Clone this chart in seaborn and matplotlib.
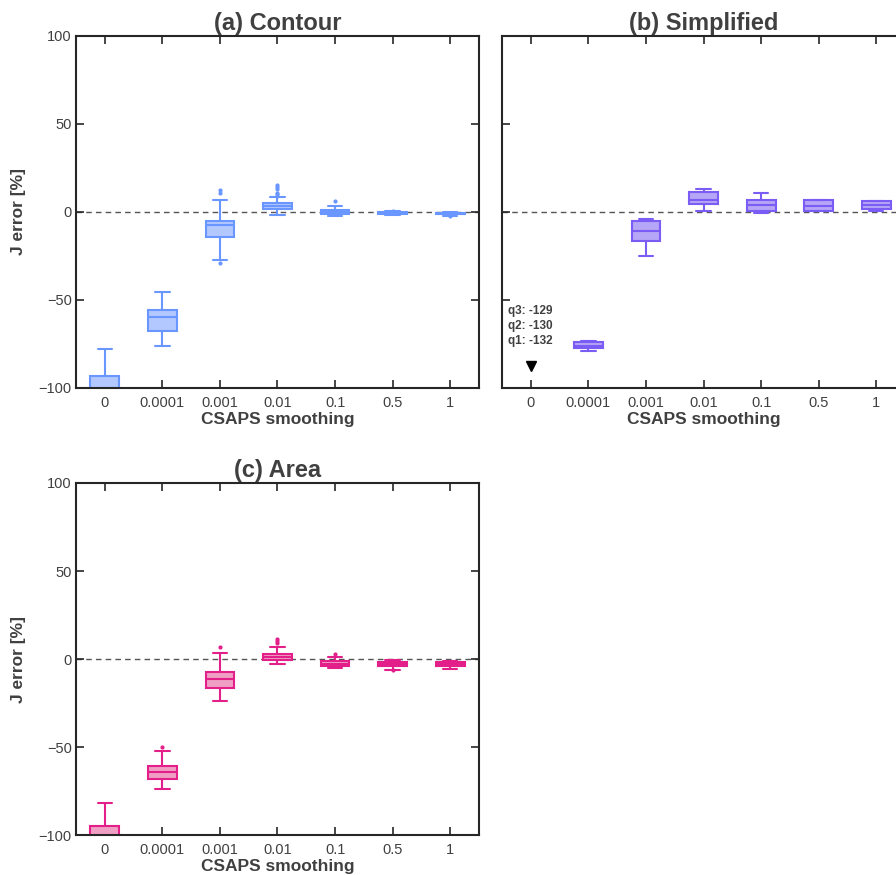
import numpy as np
import pandas as pd
import matplotlib
matplotlib.use("Agg")
import matplotlib.pyplot as plt
import seaborn as sns

# ==========================================
# DATA (five-number summaries)
# ==========================================

cats = ["0", "0.0001", "0.001", "0.01", "0.1", "0.5", "1"]

contour_lo = [-125, -76.0, -27.2, -1.9, -2.5, -2.0, -2.3]
contour_q1 = [-115, -67.5, -14.3, 1.7, -1.3, -1.3, -1.3]
contour_med = [-104, -59.9, -7.6, 3.6, 0.0, -0.8, -0.9]
contour_q3 = [-93, -55.5, -4.9, 4.9, 0.9, -0.2, -0.4]
contour_hi = [-78, -45.4, 6.8, 8.7, 3.6, 0.4, -0.2]
contour_flier_x = ["0.001", "0.001", "0.001", "0.01", "0.01", "0.01", "0.01", "0.01", "0.01", "0.1", "0.5", "1"]
contour_flier_y = [12.4, 10.6, -28.9, 15.4, 14.1, 12.9, 10.6, 10.1, 9.3, 6.1, 0.5, -2.4]

simpl_lo = [-135, -78.9, -24.9, 0.8, -0.8, 0.4, 0.8]
simpl_q1 = [-132, -77.4, -16.3, 4.6, 0.4, 0.8, 1.5]
simpl_med = [-130, -75.9, -10.6, 6.7, 4.2, 3.6, 3.8]
simpl_q3 = [-129, -74.1, -5.1, 11.6, 6.8, 6.7, 6.1]
simpl_hi = [-127, -73.4, -3.8, 13.1, 10.5, 7.0, 6.5]
simpl_flier_x = []
simpl_flier_y = []

area_lo = [-125, -73.8, -23.6, -3.0, -5.3, -6.1, -5.9]
area_q1 = [-112, -68.3, -16.5, -0.4, -3.8, -4.0, -4.0]
area_med = [-102, -64.4, -11.2, 1.3, -2.7, -3.0, -3.0]
area_q3 = [-94.7, -60.8, -7.6, 2.9, -1.3, -1.9, -1.9]
area_hi = [-81.6, -52.3, 3.2, 6.8, 1.0, -0.8, -1.0]
area_flier_x = ["0.0001", "0.001", "0.01", "0.01", "0.01", "0.1", "0.5"]
area_flier_y = [-50.0, 7.0, 11.4, 10.3, 9.1, 3.0, -6.3]

yticks = [-100, -50, 0, 50, 100]

TXT = "#404040"

# ==========================================
# STYLE
# ==========================================

sns.set_style("ticks")
plt.rcParams["font.family"] = ["Liberation Sans", "DejaVu Sans"]


def long_frame(lo, q1, med, q3, hi):
    rows = []
    for i, c in enumerate(cats):
        for v in (lo[i], q1[i], med[i], q3[i], hi[i]):
            rows.append({"s": c, "v": v})
    return pd.DataFrame(rows)


def draw_panel(ax, stats, fx, fy, edge, fill, title, show_ylabels=True):
    df = long_frame(*stats)
    sns.boxplot(data=df, x="s", y="v", order=cats, ax=ax,
                whis=(0, 100), showfliers=False, width=0.5,
                color=fill, linecolor=edge, saturation=1, linewidth=1.5)
    if fx:
        sns.stripplot(x=fx, y=fy, order=cats, ax=ax, jitter=False,
                      color=edge, size=3, linewidth=0)
    ax.axhline(0, color="#555555", lw=1, ls=(0, (4, 3)), zorder=0.5)
    ax.set_xlim(-0.5, 6.5)
    ax.set_ylim(-100, 100)
    ax.set_yticks(yticks)
    ax.set_xticks(range(len(cats)))
    ax.set_xticklabels(cats)
    ax.tick_params(direction="in", top=True, right=True, length=6, width=1.2,
                   labelsize=10.5, labelcolor=TXT, color="#262626")
    ax.tick_params(axis="x", pad=6)
    ax.tick_params(axis="y", pad=3)
    if show_ylabels:
        ax.set_ylabel("J error [%]", fontsize=12.5, fontweight="bold", color=TXT, labelpad=9)
    else:
        ax.set_ylabel("")
        ax.set_yticklabels([])
    ax.set_xlabel("CSAPS smoothing", fontsize=12.5, fontweight="bold", color=TXT, labelpad=1)
    ax.set_title(title, fontsize=17, fontweight="bold", color=TXT, pad=4)
    for sp in ax.spines.values():
        sp.set_visible(True)
        sp.set_linewidth(1.5)
        sp.set_color("#262626")


fig = plt.figure(figsize=(8.96, 8.75), dpi=100)
ax_a = fig.add_axes([0.0848, 0.5566, 0.4498, 0.4023])
ax_b = fig.add_axes([0.5603, 0.5566, 0.4498, 0.4023])
ax_c = fig.add_axes([0.0848, 0.0457, 0.4498, 0.4023])

draw_panel(ax_a, (contour_lo, contour_q1, contour_med, contour_q3, contour_hi),
           contour_flier_x, contour_flier_y, "#6a96ff", "#b3c8ff", "(a) Contour")
draw_panel(ax_b, (simpl_lo, simpl_q1, simpl_med, simpl_q3, simpl_hi),
           simpl_flier_x, simpl_flier_y, "#7b5cf5", "#b5a6f7", "(b) Simplified",
           show_ylabels=False)
draw_panel(ax_c, (area_lo, area_q1, area_med, area_q3, area_hi),
           area_flier_x, area_flier_y, "#e3208a", "#f09fc4", "(c) Area")

# off-scale marker for the unsmoothed simplified case
ax_b.plot(0, -87.5, marker="v", color="black", ms=7, clip_on=False)
notes = [("q3", simpl_q3[0]), ("q2", simpl_med[0]), ("q1", simpl_q1[0])]
for k, (lab, val) in enumerate(notes):
    ax_b.text(-0.39, -56 - 8.7 * k, f"{lab}: {val:.0f}", fontsize=8.5,
              fontweight="bold", color=TXT, va="center", ha="left")

fig.savefig("out.png", dpi=100)
